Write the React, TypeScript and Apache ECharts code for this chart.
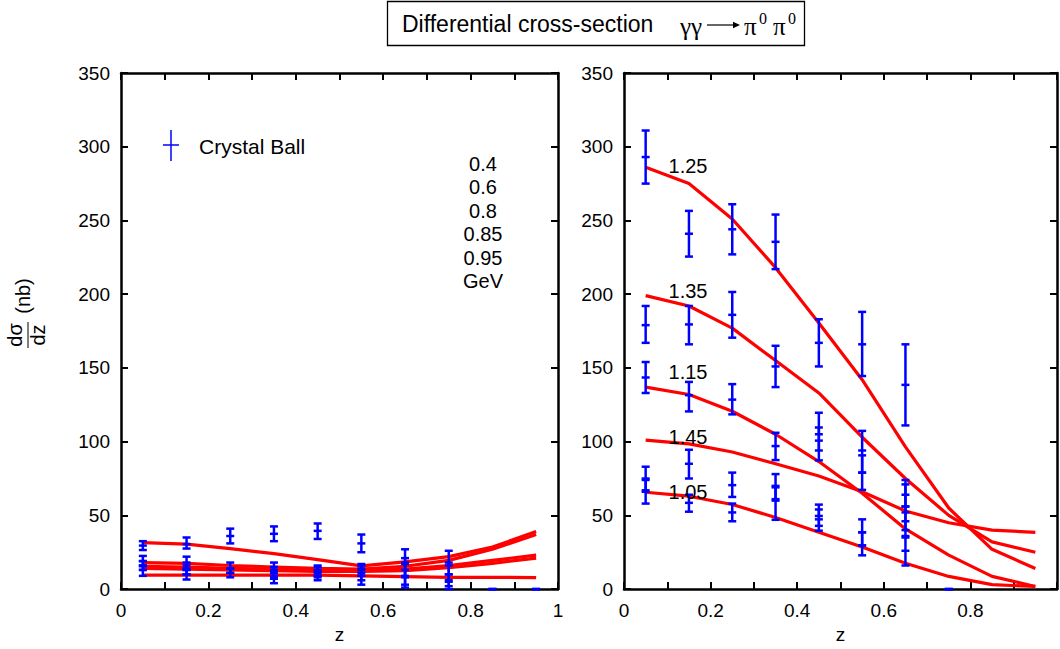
import React, { useEffect, useRef } from "react";
import * as echarts from "echarts";

const SANS = "'Liberation Sans', Arial, Helvetica, sans-serif";
const SERIF = "'Liberation Serif', 'DejaVu Serif', 'Times New Roman', serif";
const RED = "#ff0000";
const BLUE = "#0000ff";
const BLACK = "#000000";

// z = |cos θ*| bin centres
const zBins = [0.05, 0.15, 0.25, 0.35, 0.45, 0.55, 0.65, 0.75, 0.85, 0.95];

// Low-energy panel: model curves at W = 0.4 … 0.95 GeV
const lowEnergies = ["0.4", "0.6", "0.8", "0.85", "0.95"];
const lowCurveA = [31.5, 30.5, 27.5, 24, 20, 15.8, 18.5, 22, 28.5, 39];
const lowCurveB = [18, 17.5, 16, 15, 14, 13.5, 15.5, 19.5, 27, 37];
const lowCurveC = [15.5, 15, 14, 13.5, 13, 12.5, 13.5, 16, 19.5, 23];
const lowCurveD = [14, 13.5, 13, 12.5, 12, 12, 12.5, 14.5, 17.5, 21];
const lowCurveE = [9.5, 9.5, 9.5, 9.5, 9.5, 9, 8.5, 8, 8, 7.8];
const lowCurves = [lowCurveA, lowCurveB, lowCurveC, lowCurveD, lowCurveE];

// Crystal Ball points, low-energy bins: [z, value, lower, upper]
const lowPoints = [
  [0.05, 29.5, 26.5, 32.5], [0.05, 19, 15.5, 22.5], [0.05, 16, 13, 19], [0.05, 13, 9, 16],
  [0.15, 30.5, 27.5, 35], [0.15, 18, 14, 22], [0.15, 13, 10, 16], [0.15, 10, 6.5, 13],
  [0.25, 36, 31, 41], [0.25, 14, 11, 18], [0.25, 11, 8, 14],
  [0.35, 37.5, 32.5, 42.5], [0.35, 13, 9, 18], [0.35, 11, 7, 15], [0.35, 8, 4, 12],
  [0.45, 39.5, 34, 44.5], [0.45, 12, 9, 15], [0.45, 11, 8, 16], [0.45, 9, 6, 13],
  [0.55, 31, 25, 37], [0.55, 13, 9, 17], [0.55, 11, 6, 16], [0.55, 9, 3, 14],
  [0.65, 17, 8, 27], [0.65, 13, 3, 21], [0.65, 9, 1, 18],
  [0.75, 16, 6, 26], [0.75, 10, 2, 18], [0.75, 5, 0, 10],
  [0.85, 0, 0, 0], [0.95, 0, 0, 0],
];

// High-energy panel: model curves at W = 1.05 … 1.45 GeV
const highEnergies = ["1.05", "1.15", "1.25", "1.35", "1.45"];
const highCurve105 = [65.7, 63, 57.4, 48.6, 38.6, 28.6, 17.5, 8.6, 3, 1.8];
const highCurve115 = [137, 132, 120.6, 105, 86.5, 65, 40.8, 23, 8.6, 1.8];
const highCurve125 = [286, 275, 251, 218, 180.5, 142, 96.5, 55, 27, 14];
const highCurve135 = [199, 192, 177, 155, 133, 103, 75, 50, 32, 25];
const highCurve145 = [101, 98.5, 93, 85, 76.7, 66, 53, 45, 40, 38.5];
const highCurves = [highCurve105, highCurve115, highCurve125, highCurve135, highCurve145];

// Crystal Ball points, high-energy bins: [z, value, lower, upper]
const highPoints = [
  [0.05, 293, 275, 311], [0.05, 179, 167, 192], [0.05, 143.5, 133, 154], [0.05, 75, 67, 83], [0.05, 66, 58, 74],
  [0.15, 241, 225.5, 256.5], [0.15, 179.5, 166, 192], [0.15, 131.5, 120.5, 140.5], [0.15, 85, 75, 94.5], [0.15, 58.5, 52.5, 64],
  [0.25, 244, 227, 261], [0.25, 186, 170.5, 201.5], [0.25, 128.5, 118.5, 139], [0.25, 70.5, 62.5, 79], [0.25, 52, 46, 58],
  [0.35, 235.5, 217, 254], [0.35, 151, 137, 165], [0.35, 97, 87.5, 106], [0.35, 69, 61, 78], [0.35, 60, 47, 70],
  [0.45, 167, 151, 183], [0.45, 105, 94, 119.6], [0.45, 100.7, 87.3, 109.6], [0.45, 49.6, 39.6, 57.3], [0.45, 47.3, 42.9, 54],
  [0.55, 166, 144.5, 188], [0.55, 94, 79, 107.3], [0.55, 79, 67.3, 90.7], [0.55, 38.5, 29.6, 47.3], [0.55, 29.6, 22.9, 38.5],
  [0.65, 138.5, 111, 166], [0.65, 64, 52, 74], [0.65, 56, 40, 71], [0.65, 46, 35, 56], [0.65, 26, 16, 36],
  [0.75, 0, 0, 0],
];

// label positions of the high-energy curves (pixel anchors)
const highLabelY = [492, 372, 166, 291, 437];

const yTicks = { min: 0, max: 350, interval: 50 };

function renderErrorBar(params: any, api: any) {
  const z = api.value(0);
  const c = api.coord([z, api.value(1)]);
  const lo = api.coord([z, api.value(2)]);
  const hi = api.coord([z, api.value(3)]);
  const w = 4;
  const style = { stroke: BLUE, lineWidth: 2.5, fill: null };
  const h = (y: number) => ({
    type: "line",
    shape: { x1: c[0] - w, y1: y, x2: c[0] + w, y2: y },
    style,
  });
  return {
    type: "group",
    children: [
      { type: "line", shape: { x1: lo[0], y1: lo[1], x2: hi[0], y2: hi[1] }, style },
      h(lo[1]),
      h(hi[1]),
      h(c[1]),
    ],
  };
}

const zLabel = (hideOne: boolean) => (v: number) => {
  const i = Math.round(v * 10);
  if (i % 2 !== 0) return "";
  if (hideOne && i === 10) return "";
  return String(i / 10);
};

const frameLine = { onZero: false, lineStyle: { color: BLACK, width: 2.5 } };
const frameTick = { inside: true, length: 7, lineStyle: { color: BLACK, width: 2 } };

function xAxes(gridIndex: number, hideOne: boolean) {
  return [
    {
      type: "value", gridIndex, position: "bottom", min: 0, max: 1, interval: 0.1,
      axisLine: frameLine, axisTick: frameTick, splitLine: { show: false },
      axisLabel: { formatter: zLabel(hideOne), fontSize: 19, fontFamily: SANS, color: BLACK, margin: 12 },
      name: "z", nameLocation: "middle", nameGap: 35,
      nameTextStyle: { fontSize: 19, fontFamily: SANS, color: BLACK },
    },
    {
      type: "value", gridIndex, position: "top", min: 0, max: 1, interval: 0.1,
      axisLine: frameLine, axisTick: frameTick, splitLine: { show: false },
      axisLabel: { show: false },
    },
  ];
}

function yAxes(gridIndex: number) {
  return [
    {
      type: "value", gridIndex, position: "left", ...yTicks,
      axisLine: frameLine, axisTick: frameTick, splitLine: { show: false },
      axisLabel: { fontSize: 19, fontFamily: SANS, color: BLACK, margin: 11 },
    },
    {
      type: "value", gridIndex, position: "right", ...yTicks,
      axisLine: frameLine, axisTick: frameTick, splitLine: { show: false },
      axisLabel: { show: false },
    },
  ];
}

function curveSeries(curves: number[][], names: string[], axisIndex: number) {
  return curves.map((vals, k) => ({
    type: "line",
    name: names[k],
    xAxisIndex: axisIndex,
    yAxisIndex: axisIndex,
    data: zBins.map((z, i) => [z, vals[i]]),
    showSymbol: false,
    symbol: "none",
    lineStyle: { color: RED, width: 3.2 },
    itemStyle: { color: RED },
    z: 2,
  }));
}

const txt = (text: string, x: number, y: number, extra: any = {}, rotation = 0) => ({
  type: "text",
  x,
  y,
  z: 100,
  rotation,
  style: {
    text,
    fill: BLACK,
    fontSize: 20,
    fontFamily: SANS,
    align: "center",
    verticalAlign: "middle",
    ...extra,
  },
});

export default function App() {
  const ref = useRef<HTMLDivElement>(null);

  useEffect(() => {
    if (!ref.current) return;
    const chart = echarts.init(ref.current, undefined, { renderer: "svg" });
    const up = Math.PI / 2;

    const graphic: any[] = [
      // title box
      {
        type: "rect", z: 100,
        shape: { x: 387.5, y: 1.5, width: 417, height: 44 },
        style: { fill: "#fff", stroke: BLACK, lineWidth: 1.3 },
      },
      txt("Differential cross-section", 402, 24, { align: "left", fontSize: 23 }),
      txt("γγ", 680, 26, { align: "left", fontFamily: SERIF, fontSize: 25 }),
      { type: "line", z: 101, shape: { x1: 707, y1: 25, x2: 735, y2: 25 }, style: { stroke: BLACK, lineWidth: 1.2 } },
      { type: "polygon", z: 101, shape: { points: [[733, 21.8], [740, 25], [733, 28.2]] }, style: { fill: BLACK } },
      txt("π", 744, 26, { align: "left", fontFamily: SERIF, fontSize: 25 }),
      txt("0", 759, 18, { align: "left", fontFamily: SERIF, fontSize: 16 }),
      txt("π", 773, 26, { align: "left", fontFamily: SERIF, fontSize: 25 }),
      txt("0", 788, 18, { align: "left", fontFamily: SERIF, fontSize: 16 }),

      // legend
      { type: "line", z: 100, shape: { x1: 171, y1: 130, x2: 171, y2: 161 }, style: { stroke: BLUE, lineWidth: 1.5 } },
      { type: "line", z: 100, shape: { x1: 163, y1: 145, x2: 179, y2: 145 }, style: { stroke: BLUE, lineWidth: 1.5 } },
      txt("Crystal Ball", 199, 146, { align: "left", fontSize: 21 }),

      // y-axis title: dσ/dz (nb), reading upwards
      txt("dσ", 15, 335, {}, up),
      txt("dz", 38, 335, {}, up),
      { type: "line", z: 100, shape: { x1: 28, y1: 322, x2: 28, y2: 348 }, style: { stroke: BLACK, lineWidth: 1 } },
      txt("(nb)", 23, 296, {}, up),
    ];

    // energy list of the low-energy curves
    [...lowEnergies, "GeV"].forEach((s, i) => graphic.push(txt(s, 483, 164 + i * 23.4)));
    // labels of the high-energy curves
    highEnergies.forEach((s, i) => graphic.push(txt(s, 688, highLabelY[i])));

    chart.setOption({
      animation: false,
      backgroundColor: "#ffffff",
      grid: [
        { left: 121, top: 73, width: 437, height: 525 },
        { left: 624, top: 73, width: 438, height: 525 },
      ],
      xAxis: [...xAxes(0, false), ...xAxes(1, true)],
      yAxis: [...yAxes(0), ...yAxes(1)],
      series: [
        ...curveSeries(lowCurves, lowEnergies, 0),
        {
          type: "custom", name: "Crystal Ball", xAxisIndex: 0, yAxisIndex: 0,
          data: lowPoints, renderItem: renderErrorBar, z: 5, clip: false,
          encode: { x: 0, y: [1, 2, 3] },
        },
        ...curveSeries(highCurves, highEnergies, 2),
        {
          type: "custom", name: "Crystal Ball high", xAxisIndex: 2, yAxisIndex: 2,
          data: highPoints, renderItem: renderErrorBar, z: 5, clip: false,
          encode: { x: 0, y: [1, 2, 3] },
        },
      ],
      graphic,
    });

    return () => chart.dispose();
  }, []);

  return (
    <div
      ref={ref}
      style={{ position: "fixed", left: 0, top: 0, width: 1060, height: 649, background: "#fff" }}
    />
  );
}
